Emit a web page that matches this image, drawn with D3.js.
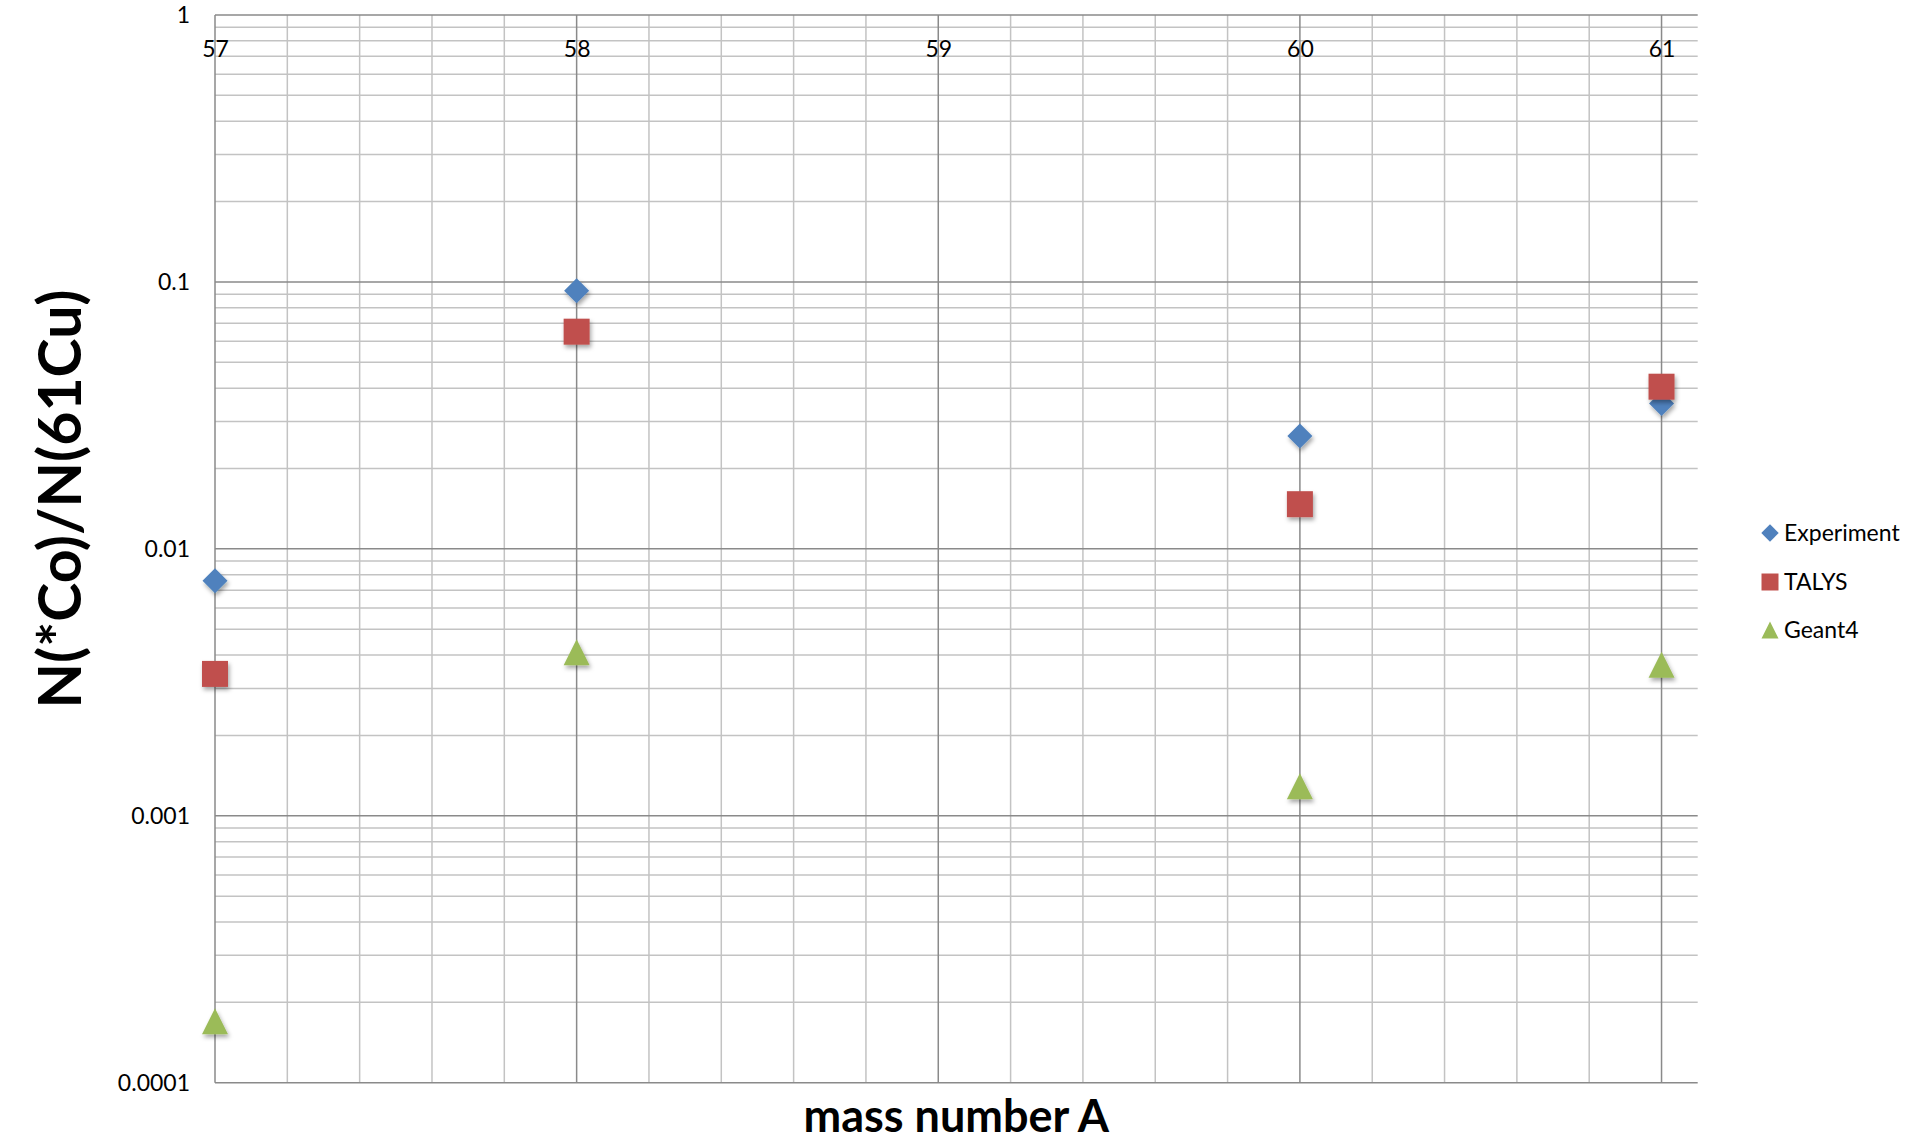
<!DOCTYPE html>
<html>
<head>
<meta charset="utf-8">
<script src="https://cdn.jsdelivr.net/npm/d3@7"></script>
<style>
  html, body { margin: 0; padding: 0; background: #ffffff; }
  svg { display: block; }
  text { font-family: Lato, "Open Sans", sans-serif; fill: #000; }
</style>
</head>
<body>
<svg id="chart" width="1917" height="1141"></svg>
<script>
// Isotope mass numbers (Co) and yields relative to 61Cu
const massNumbers = [57, 58, 60, 61];
const experiment = [0.0076, 0.0927, 0.0265, 0.035];
const talys = [0.0034, 0.0651, 0.0147, 0.0405];
const geant4 = [0.00017, 0.0041, 0.00129, 0.00368];

const xTickValues = [57, 58, 59, 60, 61];
const yTickValues = [1, 0.1, 0.01, 0.001, 0.0001];
const yTickLabels = ["1", "0.1", "0.01", "0.001", "0.0001"];
const seriesNames = ["Experiment", "TALYS", "Geant4"];
const seriesColors = ["#4F81BD", "#C0504D", "#9BBB59"];

const svg = d3.select("#chart");
const plot = { left: 215, right: 1697.7, top: 15, bottom: 1082.7 };

const x = d3.scaleLinear().domain([57, 61.1]).range([plot.left, plot.right]);
const y = d3.scaleLog().domain([1e-4, 1]).range([plot.bottom, plot.top]);

// soft drop shadow under markers
const defs = svg.append("defs");
const f = defs.append("filter").attr("id", "shadow")
  .attr("x", "-50%").attr("y", "-50%").attr("width", "200%").attr("height", "200%");
f.append("feDropShadow").attr("dx", 1.5).attr("dy", 3).attr("stdDeviation", 2)
  .attr("flood-color", "#000").attr("flood-opacity", 0.35);

const grid = svg.append("g");

// minor horizontal grid: 2..9 within each decade
const minorY = [];
for (let e = -4; e < 0; e++) {
  for (let m = 2; m <= 9; m++) minorY.push(m * Math.pow(10, e));
}
grid.selectAll("line.hminor").data(minorY).join("line")
  .attr("x1", plot.left).attr("x2", plot.right)
  .attr("y1", d => y(d)).attr("y2", d => y(d))
  .attr("stroke", "#c3c3c3").attr("stroke-width", 1.5);

// minor vertical grid every 0.2
const minorX = d3.range(57.2, 61.05, 0.2).filter(v => Math.abs(v - Math.round(v)) > 1e-6);
grid.selectAll("line.vminor").data(minorX).join("line")
  .attr("y1", plot.top).attr("y2", plot.bottom)
  .attr("x1", d => x(d)).attr("x2", d => x(d))
  .attr("stroke", "#c3c3c3").attr("stroke-width", 1.5);

// major grid
grid.selectAll("line.hmajor").data(yTickValues).join("line")
  .attr("x1", plot.left).attr("x2", plot.right)
  .attr("y1", d => y(d)).attr("y2", d => y(d))
  .attr("stroke", "#8a8a8a").attr("stroke-width", 1.5);
grid.selectAll("line.vmajor").data(xTickValues).join("line")
  .attr("y1", plot.top).attr("y2", plot.bottom)
  .attr("x1", d => x(d)).attr("x2", d => x(d))
  .attr("stroke", "#8a8a8a").attr("stroke-width", 1.5);

// x tick labels along the top
const xAxis = d3.axisTop(x).tickValues(xTickValues).tickSize(0).tickFormat(d3.format("d"));
const gx = svg.append("g").attr("transform", `translate(0,${plot.top + 34})`).call(xAxis);
gx.select(".domain").remove();
gx.selectAll("text").attr("font-size", 23).attr("font-family", "Lato, sans-serif")
  .attr("fill", "#000").attr("dy", "0.35em").attr("y", 0);

// y tick labels
const yAxis = d3.axisLeft(y).tickValues(yTickValues).tickSize(0)
  .tickFormat((d, i) => yTickLabels[i]);
const gy = svg.append("g").attr("transform", `translate(${plot.left - 25},0)`).call(yAxis);
gy.select(".domain").remove();
gy.selectAll("text").attr("font-size", 23).attr("font-family", "Lato, sans-serif")
  .attr("fill", "#000").attr("x", 0);

// marker shapes
const diamond = { draw(ctx, size) { const s = Math.sqrt(size) / 2;
  ctx.moveTo(0, -s); ctx.lineTo(s, 0); ctx.lineTo(0, s); ctx.lineTo(-s, 0); ctx.closePath(); } };
const square = { draw(ctx, size) { const s = Math.sqrt(size) / 2;
  ctx.rect(-s, -s, 2 * s, 2 * s); } };
const triangle = { draw(ctx, size) { const s = Math.sqrt(size) / 2;
  ctx.moveTo(0, -s); ctx.lineTo(s, s); ctx.lineTo(-s, s); ctx.closePath(); } };
const shapes = [diamond, square, triangle];
const sizes = [25 * 25, 26 * 26, 26 * 26];

const seriesValues = [experiment, talys, geant4];
seriesValues.forEach((vals, si) => {
  svg.append("g").attr("filter", "url(#shadow)")
    .selectAll("path").data(vals.map((v, i) => ({ m: massNumbers[i], v }))).join("path")
    .attr("transform", d => `translate(${x(d.m)},${y(d.v)})`)
    .attr("d", d3.symbol().type(shapes[si]).size(sizes[si]))
    .attr("fill", seriesColors[si]);
});

// legend
const legend = svg.append("g");
const legendY = [533, 582, 630];
seriesNames.forEach((name, i) => {
  const g = legend.append("g").attr("transform", `translate(1770,${legendY[i]})`);
  g.append("path").attr("d", d3.symbol().type(shapes[i]).size(17 * 17 * (i === 0 ? 1.05 : 1)))
    .attr("fill", seriesColors[i]);
  g.append("text").attr("x", 14).attr("dy", "0.35em").attr("font-size", 23).text(name);
});

// axis titles
svg.append("text")
  .attr("x", (plot.left + plot.right) / 2).attr("y", 1132)
  .attr("text-anchor", "middle").attr("font-weight", "bold").attr("font-size", 45)
  .text("mass number A");

svg.append("text")
  .attr("transform", "translate(81,499) rotate(-90)")
  .attr("text-anchor", "middle").attr("font-weight", "bold").attr("font-size", 59)
  .text("N(*Co)/N(61Cu)");
</script>
</body>
</html>
